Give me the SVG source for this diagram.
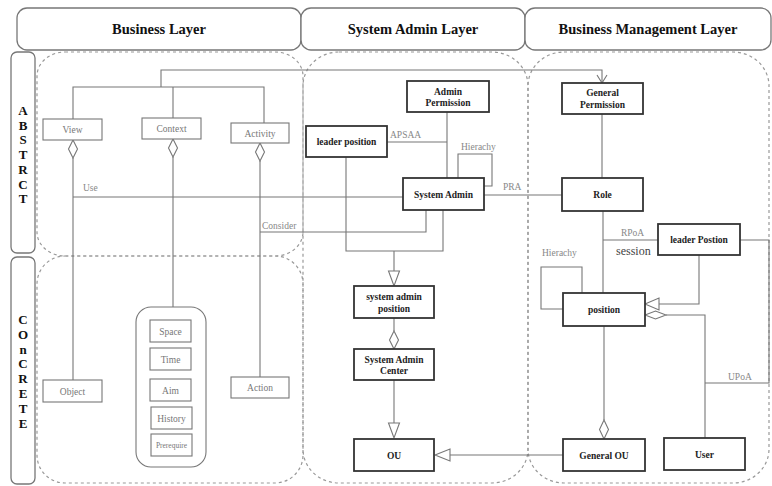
<svg xmlns="http://www.w3.org/2000/svg" width="772" height="486" viewBox="0 0 772 486">
<style>
.hdr{fill:#fff;stroke:#777;stroke-width:1.3}
.hdrt{font-family:"Liberation Serif",serif;font-weight:bold;font-size:14.5px;fill:#111;text-anchor:middle}
.bar{fill:#fff;stroke:#777;stroke-width:1.3}
.bart{font-family:"Liberation Serif",serif;font-weight:bold;font-size:13px;fill:#111;text-anchor:middle}
.reg{fill:none;stroke:#999;stroke-width:1.2;stroke-dasharray:3 3}
.lb{fill:#fff;stroke:#777;stroke-width:1.1}
.lbt{font-family:"Liberation Serif",serif;font-size:9.5px;fill:#777;text-anchor:middle}
.nb{fill:#fff;stroke:#333;stroke-width:1.8}
.nbt{font-family:"Liberation Serif",serif;font-weight:bold;font-size:9.5px;fill:#222;text-anchor:middle}
.ln{fill:none;stroke:#777;stroke-width:1.1}
.hd{fill:#fff;stroke:#777;stroke-width:1.1}
.cl{font-family:"Liberation Serif",serif;font-size:9.5px;fill:#888}
</style>

<g id="headers">
<rect class="hdr" x="17" y="8" width="284" height="42" rx="10"/>
<text class="hdrt" x="159" y="34">Business Layer</text>
<rect class="hdr" x="301" y="8" width="224" height="42" rx="10"/>
<text class="hdrt" x="413" y="34">System Admin Layer</text>
<rect class="hdr" x="525" y="8" width="246" height="42" rx="10"/>
<text class="hdrt" x="648" y="34">Business Management Layer</text>
</g>

<g id="side-bars">
<rect class="bar" x="11" y="52" width="24" height="201" rx="6"/>
<text class="bart" x="23" y="115">A</text>
<text class="bart" x="23" y="130">B</text>
<text class="bart" x="23" y="144">S</text>
<text class="bart" x="23" y="159">T</text>
<text class="bart" x="23" y="174">R</text>
<text class="bart" x="23" y="189">C</text>
<text class="bart" x="23" y="203">T</text>
<rect class="bar" x="11" y="257" width="24" height="227" rx="6"/>
<text class="bart" x="23" y="324">C</text>
<text class="bart" x="23" y="339">O</text>
<text class="bart" x="23" y="354">n</text>
<text class="bart" x="23" y="368">C</text>
<text class="bart" x="23" y="383">R</text>
<text class="bart" x="23" y="398">E</text>
<text class="bart" x="23" y="413">T</text>
<text class="bart" x="23" y="428">E</text>
</g>

<g id="regions">
<rect class="reg" x="37" y="52" width="266" height="204" rx="28" ry="24"/>
<rect class="reg" x="37" y="256" width="266" height="227" rx="28" ry="28"/>
<rect class="reg" x="303" y="52" width="225" height="431" rx="36" ry="34"/>
<rect class="reg" x="528" y="52" width="241" height="431" rx="36" ry="34"/>
</g>

<g id="connectors">
<!-- top tree -->
<path class="ln" d="M73,119 V87 H264 V123 M173,87 V118 M161,87 V70 H602 V83"/>
<path class="ln" d="M597,75 L602,83 L607,75"/>
<!-- view/context/activity verticals -->
<path class="ln" d="M73,158 V380 M173,157 V307 M260,161 V377"/>
<polygon class="hd" points="73,140 77.5,149 73,158 68.5,149"/>
<polygon class="hd" points="173,139 177.5,148 173,157 168.5,148"/>
<polygon class="hd" points="260,143 264.5,152 260,161 255.5,152"/>
<!-- Use -->
<path class="ln" d="M73,197 H403"/>
<!-- Consider -->
<path class="ln" d="M260,232 H426 V210"/>
<!-- APSAA -->
<path class="ln" d="M387,142 H447 M447,112 V178"/>
<!-- Hierachy loop sysadmin -->
<path class="ln" d="M458,178 V154 H492 V186 H484"/>
<!-- PRA -->
<path class="ln" d="M484,195 H562"/>
<!-- leader position to system admin position -->
<path class="ln" d="M346,157 V251 H443 V210 M394,251 V271"/>
<polygon class="hd" points="388.5,271 399.5,271 394,286"/>
<!-- system admin position to center -->
<path class="ln" d="M394,318 V331"/>
<polygon class="hd" points="394,331 398.5,340 394,349 389.5,340"/>
<!-- center to OU -->
<path class="ln" d="M394,380 V423"/>
<polygon class="hd" points="388.5,423 399.5,423 394,438"/>
<!-- General OU to OU -->
<path class="ln" d="M450,455 H563"/>
<polygon class="hd" points="450,449 450,461 435,455"/>
<!-- General permission to role to position -->
<path class="ln" d="M602,114 V178 M603,211 V293"/>
<!-- RPoA -->
<path class="ln" d="M603,240 H658"/>
<!-- Hierachy loop position -->
<path class="ln" d="M582,293 V267 H541 V309 H563"/>
<!-- leader Postion to position -->
<path class="ln" d="M699,255 V304 H659"/>
<polygon class="hd" points="659,298 659,310 645,304"/>
<!-- user to position -->
<path class="ln" d="M666,315 H705 V438"/>
<polygon class="hd" points="645,315 655.5,311 666,315 655.5,319"/>
<!-- UPoA -->
<path class="ln" d="M740,240 H769 V383 H705"/>
<!-- position to General OU -->
<path class="ln" d="M604,326 V420"/>
<polygon class="hd" points="604,420 608.5,429.5 604,439 599.5,429.5"/>
<!-- labels -->
<text class="cl" x="83" y="191">Use</text>
<text class="cl" x="262" y="229">Consider</text>
<text class="cl" x="390" y="138">APSAA</text>
<text class="cl" x="461" y="150">Hierachy</text>
<text class="cl" x="503" y="190">PRA</text>
<text class="cl" x="621" y="236">RPoA</text>
<text x="616" y="255" style="font-family:'Liberation Serif',serif;font-size:12px;fill:#444">session</text>
<text class="cl" x="542" y="256">Hierachy</text>
<text class="cl" x="728" y="380">UPoA</text>
</g>

<g id="node-view"><rect class="lb" x="43" y="119" width="59" height="21"/><text class="lbt" x="72.5" y="133">View</text></g>
<g id="node-context"><rect class="lb" x="142" y="118" width="59" height="21"/><text class="lbt" x="171.5" y="132">Context</text></g>
<g id="node-activity"><rect class="lb" x="231" y="123" width="58" height="20"/><text class="lbt" x="260" y="136.5">Activity</text></g>
<g id="node-object"><rect class="lb" x="43" y="380" width="59" height="22"/><text class="lbt" x="72.5" y="394.5">Object</text></g>
<g id="node-action"><rect class="lb" x="231" y="377" width="58" height="21"/><text class="lbt" x="260" y="391">Action</text></g>
<g id="node-context-group">
<rect class="lb" x="136" y="307" width="70" height="160" rx="15"/>
<rect class="lb" x="150" y="320" width="41" height="22"/><text class="lbt" x="170.5" y="334.5">Space</text>
<rect class="lb" x="150" y="348" width="41" height="22"/><text class="lbt" x="170.5" y="362.5">Time</text>
<rect class="lb" x="150" y="379" width="41" height="22"/><text class="lbt" x="170.5" y="393.5">Aim</text>
<rect class="lb" x="151" y="407" width="41" height="22"/><text class="lbt" x="171.5" y="421.5">History</text>
<rect class="lb" x="151" y="434" width="41" height="22"/><text class="lbt" x="171.5" y="447.5" style="font-size:7.5px">Prerequire</text>
</g>

<g id="node-admin-permission"><rect class="nb" x="407" y="81" width="82" height="31"/><text class="nbt" x="448" y="95">Admin</text><text class="nbt" x="448" y="106">Permission</text></g>
<g id="node-leader-position"><rect class="nb" x="306" y="126" width="81" height="31"/><text class="nbt" x="346.5" y="145">leader position</text></g>
<g id="node-system-admin"><rect class="nb" x="403" y="178" width="81" height="32"/><text class="nbt" x="443.5" y="197.5">System Admin</text></g>
<g id="node-system-admin-position"><rect class="nb" x="354" y="286" width="80" height="32"/><text class="nbt" x="394" y="300">system admin</text><text class="nbt" x="394" y="311.5">position</text></g>
<g id="node-system-admin-center"><rect class="nb" x="354" y="349" width="80" height="31"/><text class="nbt" x="394" y="362.5">System Admin</text><text class="nbt" x="394" y="374">Center</text></g>
<g id="node-ou"><rect class="nb" x="354" y="439" width="80" height="32"/><text class="nbt" x="394" y="458.5">OU</text></g>

<g id="node-general-permission"><rect class="nb" x="562" y="83" width="81" height="31"/><text class="nbt" x="602.5" y="96">General</text><text class="nbt" x="602.5" y="107.5">Permission</text></g>
<g id="node-role"><rect class="nb" x="562" y="178" width="81" height="33"/><text class="nbt" x="602.5" y="198">Role</text></g>
<g id="node-leader-postion"><rect class="nb" x="658" y="224" width="82" height="31"/><text class="nbt" x="699" y="243">leader Postion</text></g>
<g id="node-position"><rect class="nb" x="563" y="293" width="82" height="33"/><text class="nbt" x="604" y="313">position</text></g>
<g id="node-general-ou"><rect class="nb" x="563" y="439" width="82" height="32"/><text class="nbt" x="604" y="458.5">General OU</text></g>
<g id="node-user"><rect class="nb" x="664" y="438" width="81" height="32"/><text class="nbt" x="704.5" y="457.5">User</text></g>
</svg>
